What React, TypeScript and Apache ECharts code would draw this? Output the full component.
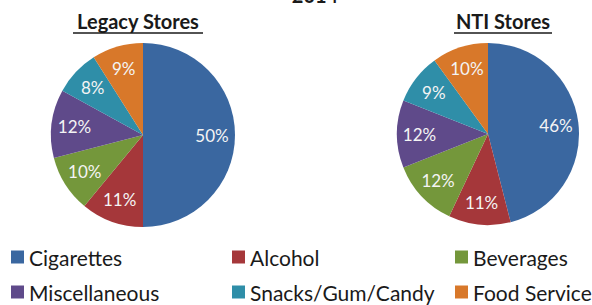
import React, { useEffect, useRef } from "react";
import * as echarts from "echarts";

const categories = ["Cigarettes", "Alcohol", "Beverages", "Miscellaneous", "Snacks/Gum/Candy", "Food Service"];
const legacyValues = [50, 11, 10, 12, 8, 9];
const ntiValues = [46, 11, 12, 12, 9, 10];
const colors = ["#3A67A0", "#A5373A", "#74973B", "#5F4A8A", "#2F8EA8", "#D8782A"];
const chartTitle = "2014";
const pieTitles = ["Legacy Stores", "NTI Stores"];

const FONT = "Lato";

function pieSeries(values: number[], cx: number, cy: number, r: number) {
  const data = categories.map((name, i) => ({ name, value: values[i], itemStyle: { color: colors[i] } }));
  const labelData = categories.map((name, i) => ({ name, value: values[i] }));
  return [
    {
      type: "pie",
      center: [cx, cy],
      radius: [0, r],
      startAngle: 90,
      clockwise: true,
      silent: true,
      label: { show: false },
      labelLine: { show: false },
      data,
    },
    {
      type: "pie",
      center: [cx, cy],
      radius: [40, r],
      startAngle: 90,
      clockwise: true,
      silent: true,
      itemStyle: { color: "rgba(0,0,0,0)" },
      label: {
        show: true,
        position: "inside",
        formatter: "{c}%",
        color: "#f4f4f4",
        fontFamily: FONT,
        fontSize: 17,
      },
      labelLine: { show: false },
      data: labelData,
    },
  ];
}

const legendLefts = [11, 232, 455];
const legendTops = [246, 281];

function legendItem(i: number) {
  const col = i % 3;
  const row = Math.floor(i / 3);
  return {
    orient: "horizontal",
    left: legendLefts[col],
    top: legendTops[row],
    itemWidth: 13,
    itemHeight: 13,
    icon: "rect",
    selectedMode: false,
    padding: 0,
    textStyle: { fontFamily: FONT, fontSize: 21, color: "#1a1a1a", lineHeight: 22 },
    data: [{ name: categories[i], itemStyle: { color: colors[i] } }],
  };
}

export default function App() {
  const ref = useRef<HTMLDivElement>(null);
  useEffect(() => {
    if (!ref.current) return;
    const chart = echarts.init(ref.current, undefined, { renderer: "svg" });
    chart.setOption({
      animation: false,
      backgroundColor: "#ffffff",
      legend: categories.map((_, i) => legendItem(i)),
      graphic: [
        {
          type: "text",
          x: 315,
          y: -15,
          style: { text: chartTitle, fontFamily: FONT, fontSize: 20, fontWeight: "bold", fill: "#1a1a1a", align: "center" },
        },
        {
          type: "text",
          x: 138,
          y: 11,
          style: { text: pieTitles[0], fontFamily: FONT, fontSize: 20, fontWeight: "bold", fill: "#1a1a1a", align: "center" },
        },
        { type: "line", shape: { x1: 73, y1: 33, x2: 203, y2: 33 }, style: { stroke: "#1a1a1a", lineWidth: 1.5 } },
        {
          type: "text",
          x: 503,
          y: 11,
          style: { text: pieTitles[1], fontFamily: FONT, fontSize: 20, fontWeight: "bold", fill: "#1a1a1a", align: "center" },
        },
        { type: "line", shape: { x1: 454, y1: 33, x2: 552, y2: 33 }, style: { stroke: "#1a1a1a", lineWidth: 1.5 } },
      ],
      series: [...pieSeries(legacyValues, 143, 135, 92), ...pieSeries(ntiValues, 488, 134, 91)],
    });
    return () => chart.dispose();
  }, []);
  return <div ref={ref} style={{ position: "fixed", left: 0, top: 0, width: 592, height: 305, background: "#fff" }} />;
}
